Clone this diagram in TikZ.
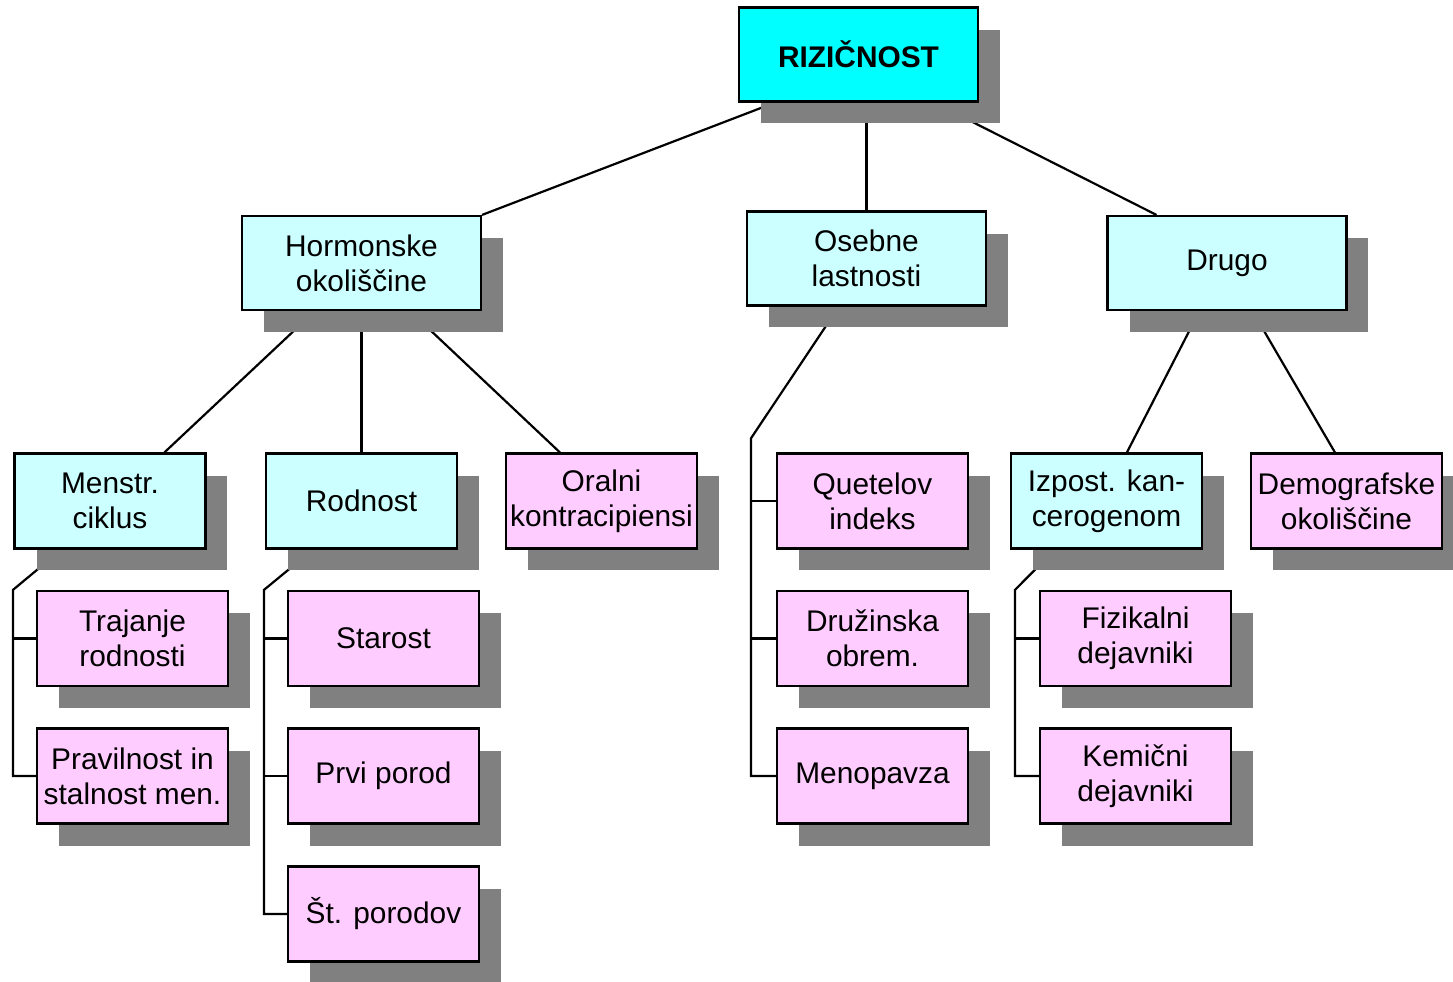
\documentclass[tikz,border=0pt]{standalone}
\usepackage{fontspec}
\setmainfont{Liberation Sans}
\usetikzlibrary{calc,shadows,backgrounds}
\definecolor{rootcyan}{RGB}{0,255,255}
\definecolor{lightcyan}{RGB}{204,255,255}
\definecolor{lightpink}{RGB}{255,204,255}
\definecolor{shadowgray}{RGB}{128,128,128}
\tikzset{
  box/.style={draw=black, line width=1.25pt, inner sep=1pt, align=center,
    font=\fontsize{17}{19.8}\selectfont,
    drop shadow={shadow xshift=0.44cm, shadow yshift=-0.44cm, fill=shadowgray, opacity=1}},
  bigbox/.style={box, minimum width=4.78cm, minimum height=1.88cm},
  smallbox/.style={box, minimum width=3.82cm, minimum height=1.9cm},
  cyanbox/.style={fill=lightcyan},
  pinkbox/.style={fill=lightpink},
  link/.style={draw=black, line width=1.25pt}
}
\begin{document}
\begin{tikzpicture}[x=0.02cm, y=-0.02cm]
\useasboundingbox (0,0) rectangle (1453,981);

% top level
\node[bigbox, fill=rootcyan, font=\fontsize{17}{19.8}\selectfont\bfseries] (root) at (858.5,54.5) {RIZIČNOST};

% second level
\node[bigbox, cyanbox] (hor) at (361.5,263) {Hormonske\\okoliščine};
\node[bigbox, cyanbox] (ose) at (866.5,258.5) {Osebne\\lastnosti};
\node[bigbox, cyanbox] (dru) at (1227,263) {Drugo};

% third level
\node[smallbox, cyanbox] (men) at (110,501) {Menstr.\\ciklus};
\node[smallbox, cyanbox] (rod) at (361.5,501) {Rodnost};
\node[smallbox, pinkbox] (ora) at (601.5,501) {Oralni\\kontracipiensi};
\node[smallbox, pinkbox] (que) at (872.5,501) {Quetelov\\indeks};
\node[smallbox, cyanbox] (izp) at (1106.5,501) {Izpost. kan-\\cerogenom};
\node[smallbox, pinkbox] (dem) at (1346.5,501) {Demografske\\okoliščine};

% leaves
\node[smallbox, pinkbox] (tra) at (132.5,638.5) {Trajanje\\rodnosti};
\node[smallbox, pinkbox] (pra) at (132.5,776) {Pravilnost in\\stalnost men.};
\node[smallbox, pinkbox] (sta) at (383.5,638.5) {Starost};
\node[smallbox, pinkbox] (prv) at (383.5,776) {Prvi porod};
\node[smallbox, pinkbox] (stp) at (383.5,914) {Št. porodov};
\node[smallbox, pinkbox] (dzo) at (872.5,638.5) {Družinska\\obrem.};
\node[smallbox, pinkbox] (mnp) at (872.5,776) {Menopavza};
\node[smallbox, pinkbox] (fiz) at (1135.5,638.5) {Fizikalni\\dejavniki};
\node[smallbox, pinkbox] (kem) at (1135.5,776) {Kemični\\dejavniki};

% bend points of the side branches
\coordinate (menK) at ($(tra.north west)+(-23,0)$);
\coordinate (rodK) at ($(sta.north west)+(-23,0)$);
\coordinate (oseK) at ($(que.north west)+(-25,-14)$);
\coordinate (izpK) at ($(fiz.north west)+(-24,0)$);

\begin{pgfonlayer}{background}
  % root to second level
  \draw[link] ($(root.south west)+(37,0)$) -- (hor.north east);
  \draw[link] (ose.north) -- (ose.north |- root.south);
  \draw[link] ($(root.south east)+(-45,0)$) -- ($(dru.north west)+(50,0)$);

  % Hormonske okoliščine
  \draw[link] ($(hor.south west)+(74,0)$) -- ($(men.north west)+(151,0)$);
  \draw[link] (hor.south) -- (rod.north);
  \draw[link] ($(hor.south east)+(-72,0)$) -- ($(ora.north west)+(55,0)$);

  % Osebne lastnosti
  \draw[link] ($(ose.south west)+(93,0)$) -- (oseK) -- (oseK |- mnp.west) -- (mnp.west);
  \draw[link] (oseK |- que.west) -- (que.west);
  \draw[link] (oseK |- dzo.west) -- (dzo.west);

  % Drugo
  \draw[link] ($(dru.south west)+(93,0)$) -- ($(izp.north west)+(117,0)$);
  \draw[link] ($(dru.south west)+(146,0)$) -- ($(dem.north west)+(85,0)$);

  % Menstr. ciklus
  \draw[link] ($(men.south west)+(48,0)$) -- (menK) -- (menK |- pra.west) -- (pra.west);
  \draw[link] (menK |- tra.west) -- (tra.west);

  % Rodnost
  \draw[link] ($(rod.south west)+(48,0)$) -- (rodK) -- (rodK |- stp.west) -- (stp.west);
  \draw[link] (rodK |- sta.west) -- (sta.west);
  \draw[link] (rodK |- prv.west) -- (prv.west);

  % Izpost. kancerogenom
  \draw[link] ($(izp.south west)+(45,0)$) -- (izpK) -- (izpK |- kem.west) -- (kem.west);
  \draw[link] (izpK |- fiz.west) -- (fiz.west);
\end{pgfonlayer}
\end{tikzpicture}
\end{document}
